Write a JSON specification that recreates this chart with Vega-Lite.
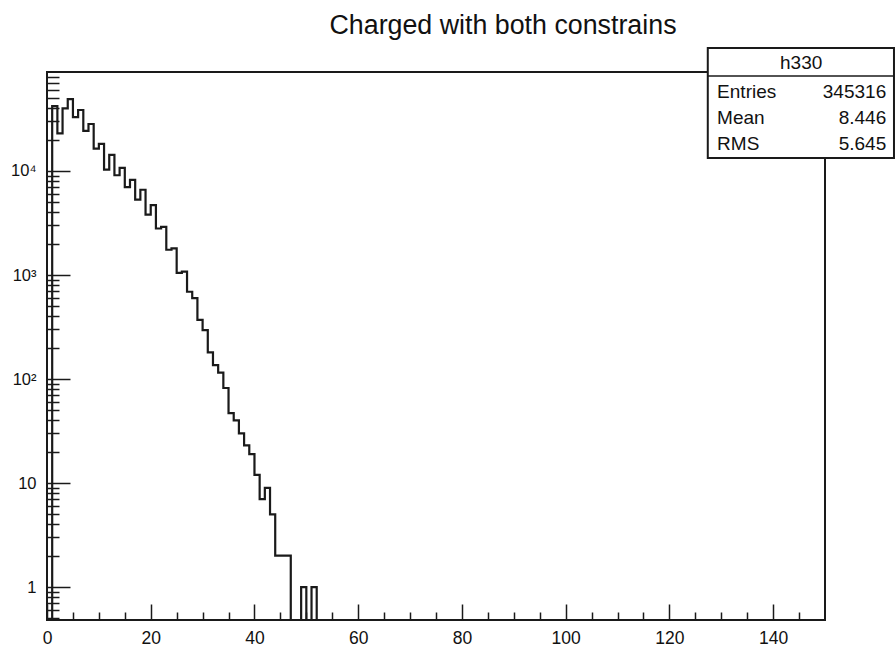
{
  "$schema": "https://vega.github.io/schema/vega-lite/v6.json",
  "width": 778,
  "height": 548,
  "autosize": {"type": "none"},
  "padding": {"left": 47, "top": 72, "right": 70, "bottom": 28},
  "background": "white",
  "config": {
    "view": {"stroke": "#1a1a1a", "strokeWidth": 2},
    "font": "Liberation Sans"
  },
  "title": {
    "text": "Charged with both constrains",
    "font": "Liberation Sans",
    "fontSize": 26.8,
    "fontWeight": "normal",
    "color": "#111111",
    "anchor": "middle",
    "frame": "group",
    "dx": 67,
    "offset": -14,
    "baseline": "alphabetic"
  },
  "layer": [
    {
      "data": {
        "values": [
          {"x": 0, "count": 0}, {"x": 1, "count": 42000}, {"x": 2, "count": 23000}, {"x": 3, "count": 40000},
          {"x": 4, "count": 49000}, {"x": 5, "count": 33000}, {"x": 6, "count": 38600}, {"x": 7, "count": 24300},
          {"x": 8, "count": 28300}, {"x": 9, "count": 16400}, {"x": 10, "count": 18200}, {"x": 11, "count": 10300},
          {"x": 12, "count": 14300}, {"x": 13, "count": 9100}, {"x": 14, "count": 10700}, {"x": 15, "count": 7000},
          {"x": 16, "count": 8200}, {"x": 17, "count": 5300}, {"x": 18, "count": 6600}, {"x": 19, "count": 3800},
          {"x": 20, "count": 4700}, {"x": 21, "count": 2800}, {"x": 22, "count": 2900}, {"x": 23, "count": 1750},
          {"x": 24, "count": 1800}, {"x": 25, "count": 1050}, {"x": 26, "count": 1080}, {"x": 27, "count": 690},
          {"x": 28, "count": 600}, {"x": 29, "count": 370}, {"x": 30, "count": 295}, {"x": 31, "count": 180},
          {"x": 32, "count": 136}, {"x": 33, "count": 115}, {"x": 34, "count": 82}, {"x": 35, "count": 47},
          {"x": 36, "count": 40}, {"x": 37, "count": 30}, {"x": 38, "count": 23}, {"x": 39, "count": 19},
          {"x": 40, "count": 12}, {"x": 41, "count": 7}, {"x": 42, "count": 9}, {"x": 43, "count": 5},
          {"x": 44, "count": 2}, {"x": 45, "count": 2}, {"x": 46, "count": 2}, {"x": 47, "count": 0},
          {"x": 48, "count": 0}, {"x": 49, "count": 1}, {"x": 50, "count": 0}, {"x": 51, "count": 1},
          {"x": 52, "count": 0}
        ]
      },
      "mark": {"type": "line", "interpolate": "step-after", "color": "#1a1a1a", "strokeWidth": 2.2},
      "encoding": {
        "x": {
          "field": "x",
          "type": "quantitative",
          "scale": {"domain": [0, 150], "nice": false, "zero": false},
          "axis": {
            "orient": "bottom",
            "title": null,
            "domain": false,
            "grid": false,
            "values": [0, 5, 10, 15, 20, 25, 30, 35, 40, 45, 50, 55, 60, 65, 70, 75, 80, 85, 90, 95, 100, 105, 110, 115, 120, 125, 130, 135, 140, 145],
            "labelExpr": "datum.value % 20 === 0 ? datum.label : ''",
            "tickSize": {"condition": {"test": "datum.value % 20 === 0", "value": -16}, "value": -8},
            "tickColor": "#1a1a1a",
            "tickWidth": 1.5,
            "labelPadding": 25,
            "labelFont": "Liberation Sans",
            "labelFontSize": 17.5,
            "labelColor": "#111111",
            "labelFlush": false,
            "labelOverlap": false
          }
        },
        "y": {
          "field": "count",
          "type": "quantitative",
          "scale": {"type": "log", "domain": [0.482, 89500], "nice": false, "clamp": true},
          "axis": {
            "orient": "left",
            "title": null,
            "domain": false,
            "grid": false,
            "values": [0.5, 0.6, 0.7, 0.8, 0.9, 1, 2, 3, 4, 5, 6, 7, 8, 9, 10, 20, 30, 40, 50, 60, 70, 80, 90, 100, 200, 300, 400, 500, 600, 700, 800, 900, 1000, 2000, 3000, 4000, 5000, 6000, 7000, 8000, 9000, 10000, 20000, 30000, 40000, 50000, 60000, 70000, 80000],
            "labelExpr": "datum.value === 1 ? '1' : datum.value === 10 ? '10' : datum.value === 100 ? '10²' : datum.value === 1000 ? '10³' : datum.value === 10000 ? '10⁴' : ''",
            "tickSize": {"condition": {"test": "datum.value === 1 || datum.value === 10 || datum.value === 100 || datum.value === 1000 || datum.value === 10000", "value": -23}, "value": -12},
            "tickColor": "#1a1a1a",
            "tickWidth": 1.5,
            "labelPadding": 34,
            "labelFont": "Liberation Sans",
            "labelFontSize": 16.5,
            "labelColor": "#111111",
            "labelFlush": false,
            "labelOverlap": false
          }
        }
      }
    },
    {
      "data": {"values": [{"hist": "h330", "entries": 345316, "mean": 8.446, "rms": 5.645}]},
      "layer": [
        {
          "mark": {"type": "rect", "fill": "white", "stroke": "#1a1a1a", "strokeWidth": 2},
          "encoding": {
            "x": {"datum": 127.4, "type": "quantitative", "scale": {"domain": [0, 150], "nice": false, "zero": false}, "axis": null},
            "x2": {"datum": 163.3},
            "y": {"datum": 152400, "type": "quantitative", "scale": {"type": "log", "domain": [0.482, 89500], "nice": false}, "axis": null},
            "y2": {"datum": 13350}
          }
        },
        {
          "mark": {"type": "rule", "color": "#1a1a1a", "strokeWidth": 1.5},
          "encoding": {
            "x": {"datum": 127.4, "type": "quantitative", "scale": {"domain": [0, 150], "nice": false, "zero": false}, "axis": null},
            "x2": {"datum": 163.3},
            "y": {"datum": 82000, "type": "quantitative", "scale": {"type": "log", "domain": [0.482, 89500], "nice": false}, "axis": null}
          }
        },
        {
          "mark": {"type": "text", "align": "center", "baseline": "middle", "fontSize": 19, "color": "#111111", "font": "Liberation Sans"},
          "encoding": {
            "x": {"datum": 145.4, "type": "quantitative", "scale": {"domain": [0, 150], "nice": false, "zero": false}, "axis": null},
            "y": {"datum": 109400, "type": "quantitative", "scale": {"type": "log", "domain": [0.482, 89500], "nice": false}, "axis": null},
            "text": {"field": "hist"}
          }
        },
        {
          "mark": {"type": "text", "align": "left", "baseline": "middle", "fontSize": 19, "color": "#111111", "font": "Liberation Sans", "text": "Entries"},
          "encoding": {
            "x": {"datum": 129.2, "type": "quantitative", "scale": {"domain": [0, 150], "nice": false, "zero": false}, "axis": null},
            "y": {"datum": 57500, "type": "quantitative", "scale": {"type": "log", "domain": [0.482, 89500], "nice": false}, "axis": null}
          }
        },
        {
          "mark": {"type": "text", "align": "right", "baseline": "middle", "fontSize": 19, "color": "#111111", "font": "Liberation Sans"},
          "encoding": {
            "x": {"datum": 161.8, "type": "quantitative", "scale": {"domain": [0, 150], "nice": false, "zero": false}, "axis": null},
            "y": {"datum": 57500, "type": "quantitative", "scale": {"type": "log", "domain": [0.482, 89500], "nice": false}, "axis": null},
            "text": {"field": "entries", "type": "quantitative", "format": "d"}
          }
        },
        {
          "mark": {"type": "text", "align": "left", "baseline": "middle", "fontSize": 19, "color": "#111111", "font": "Liberation Sans", "text": "Mean"},
          "encoding": {
            "x": {"datum": 129.2, "type": "quantitative", "scale": {"domain": [0, 150], "nice": false, "zero": false}, "axis": null},
            "y": {"datum": 32400, "type": "quantitative", "scale": {"type": "log", "domain": [0.482, 89500], "nice": false}, "axis": null}
          }
        },
        {
          "mark": {"type": "text", "align": "right", "baseline": "middle", "fontSize": 19, "color": "#111111", "font": "Liberation Sans"},
          "encoding": {
            "x": {"datum": 161.8, "type": "quantitative", "scale": {"domain": [0, 150], "nice": false, "zero": false}, "axis": null},
            "y": {"datum": 32400, "type": "quantitative", "scale": {"type": "log", "domain": [0.482, 89500], "nice": false}, "axis": null},
            "text": {"field": "mean", "type": "quantitative", "format": ".3f"}
          }
        },
        {
          "mark": {"type": "text", "align": "left", "baseline": "middle", "fontSize": 19, "color": "#111111", "font": "Liberation Sans", "text": "RMS"},
          "encoding": {
            "x": {"datum": 129.2, "type": "quantitative", "scale": {"domain": [0, 150], "nice": false, "zero": false}, "axis": null},
            "y": {"datum": 18200, "type": "quantitative", "scale": {"type": "log", "domain": [0.482, 89500], "nice": false}, "axis": null}
          }
        },
        {
          "mark": {"type": "text", "align": "right", "baseline": "middle", "fontSize": 19, "color": "#111111", "font": "Liberation Sans"},
          "encoding": {
            "x": {"datum": 161.8, "type": "quantitative", "scale": {"domain": [0, 150], "nice": false, "zero": false}, "axis": null},
            "y": {"datum": 18200, "type": "quantitative", "scale": {"type": "log", "domain": [0.482, 89500], "nice": false}, "axis": null},
            "text": {"field": "rms", "type": "quantitative", "format": ".3f"}
          }
        }
      ]
    }
  ],
  "resolve": {"scale": {"x": "independent", "y": "independent"}}
}
